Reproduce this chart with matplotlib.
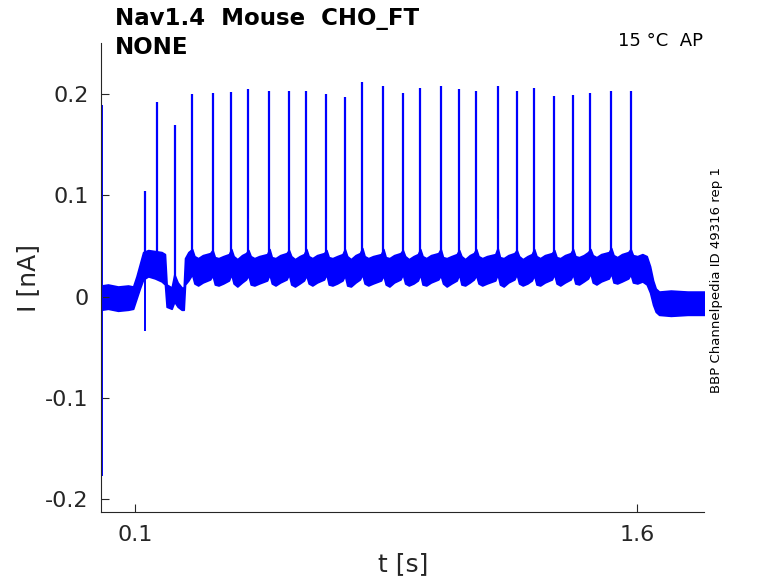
import matplotlib
matplotlib.use("Agg")
from matplotlib import pyplot as plt

# spikes: time [s], peak current [nA]
spike_t = [0.129, 0.165, 0.220, 0.271, 0.332, 0.388, 0.439, 0.502, 0.560, 0.612,
           0.672, 0.727, 0.779, 0.842, 0.900, 0.952, 1.013, 1.068, 1.119, 1.183,
           1.240, 1.292, 1.352, 1.408, 1.460, 1.522, 1.580]
spike_peak = [0.104, 0.192, 0.170, 0.200, 0.201, 0.202, 0.205, 0.203, 0.203, 0.203,
              0.200, 0.197, 0.212, 0.208, 0.201, 0.206, 0.208, 0.205, 0.203, 0.208,
              0.203, 0.206, 0.198, 0.199, 0.201, 0.203, 0.203]
spike_base = [0.03, 0.03, 0.005] + [0.03] * 24

# downward transients (start artefact and the dip at the first small spike)
trans_t = [0.002, 0.129]
trans_lo = [-0.177, -0.034]
trans_hi = [0.189, 0.020]

# noise band of the trace: time, upper and lower edge [nA]
env_t = [0.000, 0.020, 0.050, 0.080, 0.095, 0.105, 0.115, 0.125, 0.140, 0.160,
         0.180, 0.190, 0.195, 0.210, 0.218, 0.228, 0.240, 0.246, 0.250, 0.260,
         0.271, 0.278, 0.289, 0.303, 0.325,
         0.332, 0.339, 0.350, 0.364, 0.381,
         0.388, 0.395, 0.406, 0.420, 0.432,
         0.439, 0.446, 0.457, 0.471, 0.495,
         0.502, 0.509, 0.520, 0.534, 0.553,
         0.560, 0.567, 0.578, 0.592, 0.605,
         0.612, 0.619, 0.630, 0.644, 0.665,
         0.672, 0.679, 0.690, 0.704, 0.720,
         0.727, 0.734, 0.745, 0.759, 0.772,
         0.779, 0.786, 0.797, 0.811, 0.835,
         0.842, 0.849, 0.860, 0.874, 0.893,
         0.900, 0.907, 0.918, 0.932, 0.945,
         0.952, 0.959, 0.970, 0.984, 1.006,
         1.013, 1.020, 1.031, 1.045, 1.061,
         1.068, 1.075, 1.086, 1.100, 1.112,
         1.119, 1.126, 1.137, 1.151, 1.176,
         1.183, 1.190, 1.201, 1.215, 1.233,
         1.240, 1.247, 1.258, 1.272, 1.285,
         1.292, 1.299, 1.310, 1.324, 1.345,
         1.352, 1.359, 1.370, 1.384, 1.401,
         1.408, 1.415, 1.426, 1.440, 1.453,
         1.460, 1.467, 1.478, 1.492, 1.515,
         1.522, 1.529, 1.540, 1.554, 1.573,
         1.580, 1.587, 1.600, 1.615, 1.628, 1.638, 1.647, 1.655, 1.665, 1.700, 1.750, 1.800]
env_hi = [0.011, 0.012, 0.010, 0.011, 0.010, 0.020, 0.032, 0.044, 0.046, 0.045,
          0.044, 0.042, 0.012, 0.009, 0.022, 0.014, 0.009, 0.009, 0.038, 0.044,
          0.047, 0.040, 0.038, 0.041, 0.043,
          0.046, 0.039, 0.038, 0.040, 0.042,
          0.047, 0.040, 0.037, 0.041, 0.043,
          0.046, 0.040, 0.038, 0.040, 0.042,
          0.047, 0.039, 0.038, 0.041, 0.043,
          0.046, 0.040, 0.037, 0.040, 0.042,
          0.047, 0.040, 0.038, 0.041, 0.043,
          0.046, 0.039, 0.038, 0.040, 0.042,
          0.047, 0.040, 0.037, 0.041, 0.043,
          0.048, 0.040, 0.038, 0.040, 0.042,
          0.047, 0.039, 0.038, 0.041, 0.043,
          0.046, 0.040, 0.037, 0.040, 0.042,
          0.047, 0.040, 0.038, 0.041, 0.043,
          0.047, 0.039, 0.038, 0.040, 0.042,
          0.046, 0.040, 0.037, 0.041, 0.043,
          0.047, 0.040, 0.038, 0.040, 0.042,
          0.048, 0.039, 0.038, 0.041, 0.043,
          0.046, 0.040, 0.037, 0.040, 0.042,
          0.047, 0.040, 0.038, 0.041, 0.043,
          0.046, 0.039, 0.038, 0.041, 0.043,
          0.047, 0.040, 0.039, 0.041, 0.044,
          0.047, 0.041, 0.039, 0.042, 0.044,
          0.048, 0.041, 0.039, 0.042, 0.044,
          0.047, 0.041, 0.040, 0.042, 0.040, 0.030, 0.016, 0.008, 0.005, 0.006, 0.005, 0.005]
env_lo = [-0.013, -0.012, -0.014, -0.013, -0.012, -0.002, 0.008, 0.017, 0.020, 0.018,
          0.015, 0.012, -0.010, -0.012, -0.005, -0.010, -0.013, -0.013, 0.012, 0.016,
          0.022, 0.013, 0.011, 0.014, 0.017,
          0.021, 0.012, 0.011, 0.013, 0.016,
          0.022, 0.013, 0.010, 0.014, 0.017,
          0.021, 0.012, 0.011, 0.013, 0.016,
          0.022, 0.013, 0.011, 0.014, 0.017,
          0.022, 0.012, 0.010, 0.013, 0.016,
          0.021, 0.013, 0.011, 0.014, 0.017,
          0.022, 0.012, 0.011, 0.013, 0.016,
          0.021, 0.011, 0.010, 0.014, 0.017,
          0.022, 0.013, 0.011, 0.013, 0.016,
          0.021, 0.012, 0.010, 0.014, 0.017,
          0.022, 0.013, 0.011, 0.013, 0.016,
          0.022, 0.012, 0.011, 0.014, 0.017,
          0.021, 0.013, 0.010, 0.013, 0.016,
          0.022, 0.012, 0.011, 0.014, 0.017,
          0.021, 0.013, 0.011, 0.013, 0.016,
          0.022, 0.012, 0.010, 0.014, 0.017,
          0.022, 0.013, 0.011, 0.013, 0.016,
          0.021, 0.012, 0.011, 0.014, 0.017,
          0.022, 0.013, 0.011, 0.014, 0.017,
          0.022, 0.013, 0.012, 0.015, 0.018,
          0.023, 0.014, 0.012, 0.015, 0.018,
          0.023, 0.014, 0.013, 0.015, 0.018,
          0.022, 0.014, 0.013, 0.015, 0.012, 0.004, -0.008, -0.015, -0.018, -0.019, -0.018, -0.018]

x_ticks = [0.1, 1.6]
y_ticks = [-0.2, -0.1, 0, 0.1, 0.2]
y_ticklabels = ['-0.2', '-0.1', '0', '0.1', '0.2']

plt.rcParams['font.family'] = ['DejaVu Sans']
axis_col = '#262626'
trace_col = '#0000ff'

fig = plt.figure(figsize=(7.78, 5.83), dpi=100)
ax = fig.add_axes([0.1302, 0.1213, 0.7751, 0.8049])

ax.fill_between(env_t, env_lo, env_hi, color=trace_col, linewidth=1.2, edgecolor=trace_col)
ax.vlines(spike_t, spike_base, spike_peak, color=trace_col, linewidth=1.6)
ax.vlines(trans_t, trans_lo, trans_hi, color=trace_col, linewidth=1.4)

ax.set_xlim(0, 1.8)
ax.set_ylim(-0.213, 0.2505)
ax.set_xticks(x_ticks)
ax.set_xticklabels([str(v) for v in x_ticks])
ax.set_yticks(y_ticks)
ax.set_yticklabels(y_ticklabels)
ax.tick_params(direction='in', length=6, width=0.8, colors=axis_col, labelsize=16, pad=9)
for side in ['top', 'right']:
    ax.spines[side].set_visible(False)
for side in ['left', 'bottom']:
    ax.spines[side].set_color(axis_col)
    ax.spines[side].set_linewidth(0.8)

ax.set_xlabel('t [s]', fontsize=18, color=axis_col, labelpad=5)
ax.set_ylabel('I [nA]', fontsize=18, color=axis_col, labelpad=4)

fig.text(0.148, 0.969, 'Nav1.4  Mouse  CHO_FT', fontsize=16.5, fontweight='bold',
         ha='left', va='center')
fig.text(0.148, 0.919, 'NONE', fontsize=16.5, fontweight='bold', ha='left', va='center')
fig.text(0.904, 0.929, '15 \u00b0C  AP', fontsize=13, ha='right', va='center')
fig.text(0.921, 0.52, 'BBP Channelpedia ID 49316 rep 1', fontsize=9.5, rotation=90,
         ha='center', va='center')

fig.savefig('out.png', dpi=100)
